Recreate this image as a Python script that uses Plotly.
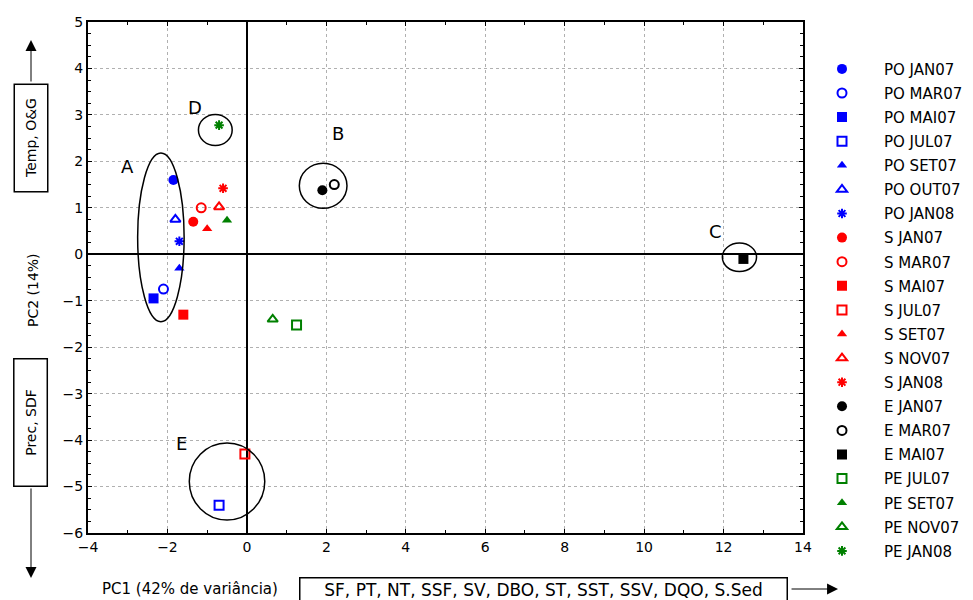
import plotly.graph_objects as go

# ---- data ----
names = ["PO JAN07", "PO MAR07", "PO MAI07", "PO JUL07", "PO SET07", "PO OUT07", "PO JAN08",
         "S JAN07", "S MAR07", "S MAI07", "S JUL07", "S SET07", "S NOV07", "S JAN08",
         "E JAN07", "E MAR07", "E MAI07",
         "PE JUL07", "PE SET07", "PE NOV07", "PE JAN08"]
pc1 = [-1.85, -2.1, -2.35, -0.7, -1.7, -1.8, -1.7,
       -1.35, -1.15, -1.6, -0.05, -1.0, -0.7, -0.6,
       1.9, 2.2, 12.5,
       1.25, -0.5, 0.65, -0.7]
pc2 = [1.6, -0.75, -0.95, -5.4, -0.3, 0.75, 0.28,
       0.7, 1.0, -1.3, -4.3, 0.55, 1.02, 1.42,
       1.38, 1.5, -0.1,
       -1.52, 0.73, -1.4, 2.78]
colors = ["#0000FF"] * 7 + ["#FF0000"] * 7 + ["#000000"] * 3 + ["#008000"] * 4
symbols = ["circle", "circle-open", "square", "square-open", "triangle-up", "triangle-up-open", "asterisk-open",
           "circle", "circle-open", "square", "square-open", "triangle-up", "triangle-up-open", "asterisk-open",
           "circle", "circle-open", "square",
           "square-open", "triangle-up", "triangle-up-open", "asterisk-open"]

# group ellipses
group_labels = ["A", "B", "C", "D", "E"]
ell_x0 = [-2.75, 1.32, 11.97, -1.22, -1.45]
ell_x1 = [-1.58, 2.52, 12.83, -0.37, 0.45]
ell_y0 = [-1.45, 0.99, -0.37, 2.34, -5.72]
ell_y1 = [2.18, 1.96, 0.24, 3.01, -4.06]
lab_x = [-3.0, 2.3, 11.8, -1.3, -1.65]
lab_y = [1.9, 2.6, 0.5, 3.15, -4.08]

FONT = "DejaVu Sans, Liberation Sans, Arial, sans-serif"

fig = go.Figure()
for i, n in enumerate(names):
    sym = symbols[i]
    is_open = sym.endswith("open")
    if "triangle" in sym:
        sz = 9
    elif "asterisk" in sym:
        sz = 8
    else:
        sz = 10 if not is_open else 9
    fig.add_trace(go.Scatter(
        x=[pc1[i]], y=[pc2[i]], mode="markers", name=n, legendgroup=n,
        marker=dict(symbol=sym, color=colors[i], size=sz,
                    line=dict(color=colors[i], width=2 if is_open else 0)),
    ))

for i, g in enumerate(group_labels):
    fig.add_shape(type="circle", xref="x", yref="y",
                  x0=ell_x0[i], x1=ell_x1[i], y0=ell_y0[i], y1=ell_y1[i],
                  line=dict(color="black", width=1.5))
    fig.add_annotation(x=lab_x[i], y=lab_y[i], text=g, showarrow=False,
                       font=dict(size=18, color="black", family=FONT))

txtfont = dict(size=14, color="black", family=FONT)
arrow_style = dict(arrowhead=2, arrowsize=2.2, arrowwidth=1, arrowcolor="black")
# bottom: axis title, variable box, arrow
fig.add_annotation(xref="paper", yref="paper", x=0.1427, y=-0.1096, xanchor="center", yanchor="middle",
                   text="PC1 (42% de variância)", showarrow=False,
                   font=dict(size=15, color="black", family=FONT))
fig.add_annotation(xref="paper", yref="paper", x=0.6364, y=-0.1096, xanchor="center", yanchor="middle",
                   text="SF, PT, NT, SSF, SV, DBO, ST, SST, SSV, DQO, S.Sed",
                   showarrow=False, font=dict(size=17, color="black", family=FONT),
                   bordercolor="black", borderwidth=1.5, borderpad=1, width=484)
fig.add_annotation(xref="paper", yref="paper", x=1.049, y=-0.1096, text="", showarrow=True,
                   axref="pixel", ayref="pixel", ax=-48, ay=0, **arrow_style)
# left: axis title, boxes, arrows
fig.add_annotation(xref="paper", yref="paper", x=-0.0769, y=0.4755, xanchor="center", yanchor="middle",
                   text="PC2 (14%)", showarrow=False, textangle=-90, font=txtfont)
fig.add_annotation(xref="paper", yref="paper", x=-0.0797, y=0.772, xanchor="center", yanchor="middle",
                   text="Temp, O&G", showarrow=False, textangle=-90, font=txtfont,
                   bordercolor="black", borderwidth=1.5, borderpad=8, width=90)
fig.add_annotation(xref="paper", yref="paper", x=-0.0797, y=0.2153, xanchor="center", yanchor="middle",
                   text="Prec, SDF", showarrow=False, textangle=-90, font=txtfont,
                   bordercolor="black", borderwidth=1.5, borderpad=8, width=110)
fig.add_annotation(xref="paper", yref="paper", x=-0.0797, y=0.9648, text="", showarrow=True,
                   axref="pixel", ayref="pixel", ax=0, ay=43, **arrow_style)
fig.add_annotation(xref="paper", yref="paper", x=-0.0797, y=-0.088, text="", showarrow=True,
                   axref="pixel", ayref="pixel", ax=0, ay=-91, **arrow_style)

fig.update_layout(
    width=973, height=600,
    margin=dict(l=88, r=170, t=22, b=67, autoexpand=False),
    paper_bgcolor="white", plot_bgcolor="white",
    font=dict(family=FONT, size=14, color="black"),
    showlegend=True,
    legend=dict(x=0.9958, y=0.94, xanchor="left", yanchor="top", tracegroupgap=1.6,
                font=dict(size=15, color="black", family=FONT), itemwidth=74,
                bgcolor="rgba(0,0,0,0)", maxheight=700),
    xaxis=dict(range=[-4, 14], dtick=2, tick0=-4, showgrid=True, gridcolor="#b0b0b0",
               griddash="dot", gridwidth=1, zeroline=True, zerolinecolor="black", zerolinewidth=2,
               showline=True, linecolor="black", linewidth=2, mirror="allticks",
               ticks="inside", ticklen=4, tickcolor="black",
               minor=dict(dtick=1, ticks="inside", ticklen=3, tickcolor="black", showgrid=False),
               fixedrange=True),
    yaxis=dict(range=[-6, 5], dtick=1, tick0=0, showgrid=True, gridcolor="#b0b0b0",
               griddash="dot", gridwidth=1, zeroline=True, zerolinecolor="black", zerolinewidth=2,
               showline=True, linecolor="black", linewidth=2, mirror="allticks",
               ticks="inside", ticklen=4, tickcolor="black",
               minor=dict(dtick=0.25, ticks="inside", ticklen=3, tickcolor="black", showgrid=False),
               fixedrange=True),
)
fig.write_html("out.html")
